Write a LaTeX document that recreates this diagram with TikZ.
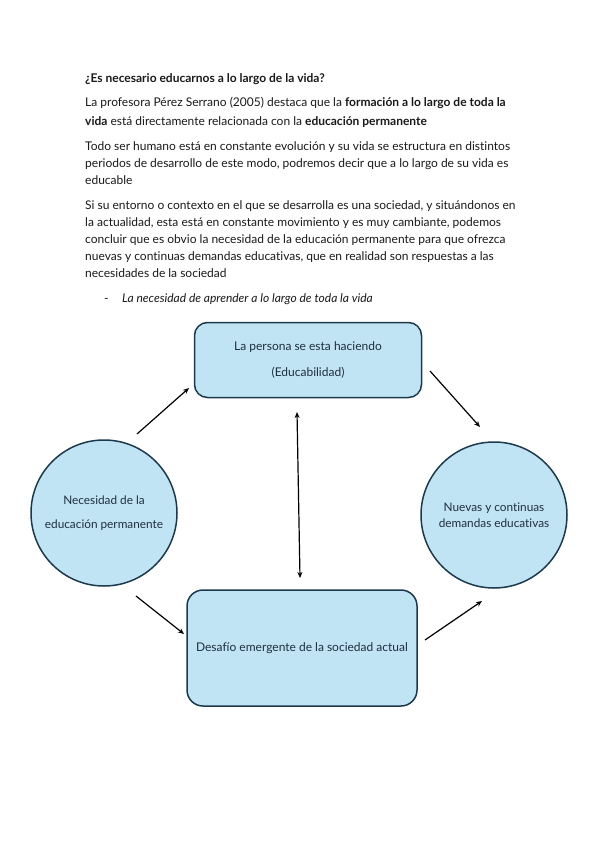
\documentclass[tikz,border=0pt]{standalone}
\usepackage{fontspec}
\setmainfont{Lato}[Ligatures=NoCommon]
\usetikzlibrary{arrows.meta}
\definecolor{boxfill}{HTML}{C1E4F5}
\definecolor{boxline}{HTML}{1D3A4D}
\definecolor{ink}{HTML}{1A1A1A}
\definecolor{boxink}{HTML}{1F2F3D}

\begin{document}
\begin{tikzpicture}[x=1pt,y=-1pt,
    txt/.style={anchor=base west,inner sep=0pt,text=ink,font=\fontsize{12}{14}\selectfont},
    shape box/.style={draw=boxline,fill=boxfill,line width=1.5pt,rounded corners=13pt,text=boxink,align=center,font=\fontsize{12}{14}\selectfont},
    circ/.style={draw=boxline,fill=boxfill,line width=1.5pt,circle,minimum size=146pt,inner sep=0pt,text=boxink,align=center,font=\fontsize{11.8}{14}\selectfont},
    link/.style={-{Stealth[length=6pt,width=5pt]},line width=1.2pt,black}]
  \useasboundingbox[fill=white] (0,0) rectangle (599,848);
  % text above the diagram
  \node[txt] (title) at (85,83) {\bfseries ¿Es necesario educarnos a lo largo de la vida?};
  \node[txt] (p1a) at (85,107) {La profesora Pérez Serrano (2005) destaca que la \textbf{formación a lo largo de toda la}};
  \node[txt] (p1b) at (85,125) {\textbf{vida} está directamente relacionada con la \textbf{educación permanente}};
  \node[txt] (p2a) at (85,150) {Todo ser humano está en constante evolución y su vida se estructura en distintos};
  \node[txt] (p2b) at (85,167) {periodos de desarrollo de este modo, podremos decir que a lo largo de su vida es};
  \node[txt] (p2c) at (85,184) {educable};
  \node[txt] (p3a) at (85,209) {Si su entorno o contexto en el que se desarrolla es una sociedad, y situándonos en};
  \node[txt] (p3b) at (85,226) {la actualidad, esta está en constante movimiento y es muy cambiante, podemos};
  \node[txt] (p3c) at (85,243) {concluir que es obvio la necesidad de la educación permanente para que ofrezca};
  \node[txt] (p3d) at (85,260) {nuevas y continuas demandas educativas, que en realidad son respuestas a las};
  \node[txt] (p3e) at (85,277) {necesidades de la sociedad};
  \node[txt] (dash) at (104,302) {-};
  \node[txt] (sub) at (122,302) {\itshape La necesidad de aprender a lo largo de toda la vida};
  % diagram
  \node[shape box,minimum width=227pt,minimum height=75pt] (persona) at (308,360)
    {La persona se esta haciendo\\[12pt](Educabilidad)};
  \node[shape box,minimum width=230pt,minimum height=116pt,rounded corners=16pt] (desafio) at (302,648)
    {Desafío emergente de la sociedad actual};
  \node[circ] (necesidad) at (104,513) {Necesidad de la\\[10pt]educación permanente};
  \node[circ] (nuevas) at (494,515) {Nuevas y continuas\\[2pt]demandas educativas};
  \coordinate (a1) at (137,434); \coordinate (b1) at (189,388);
  \coordinate (a2) at (430,371); \coordinate (b2) at (480,427);
  \coordinate (a3) at (297,412); \coordinate (b3) at (300,578);
  \coordinate (a4) at (136,596); \coordinate (b4) at (184,634);
  \coordinate (a5) at (425,640); \coordinate (b5) at (482,601);
  \draw[link] (a1) -- (b1);
  \draw[link] (a2) -- (b2);
  \draw[link,{Stealth[length=6pt,width=5pt]}-{Stealth[length=6pt,width=5pt]}] (a3) -- (b3);
  \draw[link] (a4) -- (b4);
  \draw[link] (a5) -- (b5);
\end{tikzpicture}
\end{document}
